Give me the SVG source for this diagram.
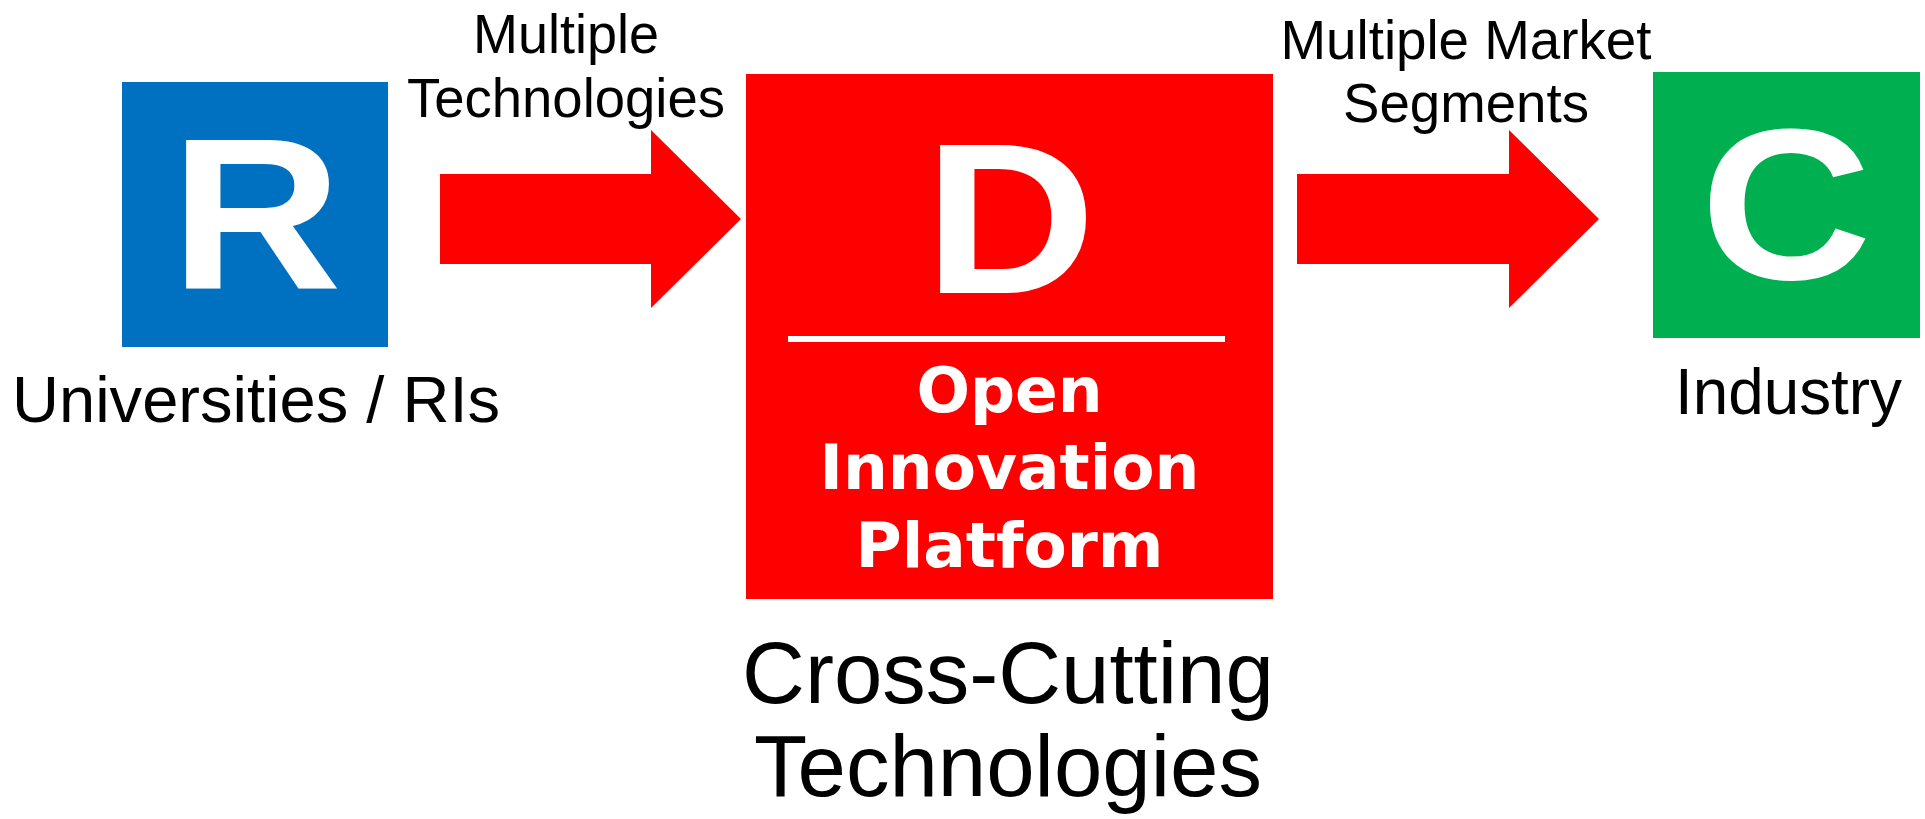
<svg xmlns="http://www.w3.org/2000/svg" width="1925" height="819" viewBox="0 0 1925 819">
<style>
.lbl{font-family:"Liberation Sans",Arial,sans-serif;fill:#000;text-anchor:middle}
.big{font-family:"Liberation Sans",Arial,sans-serif;font-weight:bold;font-size:216px;fill:#fff;text-anchor:middle}
.oip{font-family:"DejaVu Sans",Verdana,sans-serif;font-weight:bold;font-size:63px;fill:#fff;text-anchor:middle}
.arrow{fill:#ff0000}
</style>
<rect width="1925" height="819" fill="#fff"/>
<g id="connectors">
  <polygon class="arrow" points="440,174 651,174 651,130 741,219 651,308 651,264 440,264"/>
  <polygon class="arrow" points="1297,174 1509,174 1509,130 1599,219 1509,308 1509,264 1297,264"/>
  <text class="lbl" x="566" y="53" font-size="56" textLength="186" lengthAdjust="spacingAndGlyphs">Multiple</text>
  <text class="lbl" x="566" y="117" font-size="56" textLength="318" lengthAdjust="spacingAndGlyphs">Technologies</text>
  <text class="lbl" x="1466" y="59" font-size="56" textLength="371" lengthAdjust="spacingAndGlyphs">Multiple Market</text>
  <text class="lbl" x="1466" y="122" font-size="56" textLength="246" lengthAdjust="spacingAndGlyphs">Segments</text>
</g>
<g id="node-R">
  <rect x="122" y="82" width="266" height="265" fill="#0070c0"/>
  <text class="big" transform="translate(256,288) scale(1.1,1)">R</text>
  <text class="lbl" x="256" y="422" font-size="64" textLength="488" lengthAdjust="spacingAndGlyphs">Universities / RIs</text>
</g>
<g id="node-D">
  <rect x="746" y="74" width="527" height="525" fill="#ff0000"/>
  <text class="big" transform="translate(1010,293) scale(1.1,1)">D</text>
  <rect x="788" y="336" width="437" height="6" fill="#fff"/>
  <text class="oip" x="1009.5" y="412">Open</text>
  <text class="oip" x="1009.5" y="489">Innovation</text>
  <text class="oip" x="1009.5" y="567">Platform</text>
  <text class="lbl" x="1008" y="703" font-size="87">Cross-Cutting</text>
  <text class="lbl" x="1008" y="796" font-size="87">Technologies</text>
</g>
<g id="node-C">
  <rect x="1653" y="72" width="267" height="266" fill="#00b050"/>
  <text class="big" transform="translate(1786,279) scale(1.1,1)">C</text>
  <text class="lbl" x="1788.5" y="414" font-size="64" textLength="227" lengthAdjust="spacingAndGlyphs">Industry</text>
</g>
</svg>
